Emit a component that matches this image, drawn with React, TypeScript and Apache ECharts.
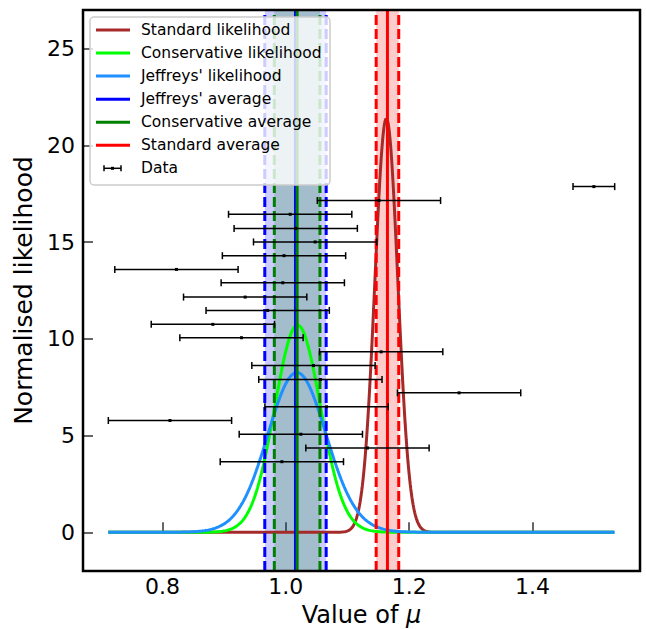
import React, { useEffect, useRef } from "react";
import * as echarts from "echarts";

// Measurements (value, vertical position, half-width of x error)
const dataX = [1.4996, 1.151, 1.007, 1.016, 1.0475, 0.997, 0.8225, 0.995, 0.934, 0.9705, 0.8816, 0.928, 1.1546, 1.0448, 1.056, 1.281, 1.066, 0.812, 1.0243, 1.1324, 0.9935];
const dataY = [17.87, 17.15, 16.44, 15.71, 15.01, 14.3, 13.59, 12.9, 12.16, 11.47, 10.75, 10.06, 9.33, 8.62, 7.9, 7.21, 6.49, 5.78, 5.07, 4.36, 3.65];
const dataErr = [0.0338, 0.1, 0.1, 0.1, 0.1, 0.1, 0.1, 0.1, 0.1, 0.1, 0.1, 0.1, 0.1, 0.1, 0.1, 0.1, 0.1, 0.1, 0.1, 0.1, 0.1];

// Averages: [centre, half-width]
const jeffreysAverage = [1.0156, 0.0498];
const conservativeAverage = [1.0183, 0.037];
const standardAverage = [1.1648, 0.0183];

const xTicks = [0.8, 1.0, 1.2, 1.4];
const yTicks = [0, 5, 10, 15, 20, 25];
const yRange = [-2, 27];

const legendLabels = [
  "Standard likelihood",
  "Conservative likelihood",
  "Jeffreys' likelihood",
  "Jeffreys' average",
  "Conservative average",
  "Standard average",
  "Data",
];

const C_STD = "#a52a2a";
const C_CONS = "#00ff00";
const C_JEF = "#1e90ff";
const C_JAVG = "#0000ff";
const C_CAVG = "#008000";
const C_SAVG = "#ff0000";

function erf(x: number): number {
  const s = x < 0 ? -1 : 1;
  const a = Math.abs(x);
  const t = 1 / (1 + 0.3275911 * a);
  const y = 1 - ((((1.061405429 * t - 1.453152027) * t + 1.421413741) * t - 0.284496736) * t + 0.254829592) * t * Math.exp(-a * a);
  return s * y;
}

const lo = Math.min(...dataX.map((x, i) => x - dataErr[i]));
const hi = Math.max(...dataX.map((x, i) => x + dataErr[i]));
const pad = 0.05 * (hi - lo);
const xMin = lo - pad;
const xMax = hi + pad;

const N = 900;
const grid: number[] = [];
for (let k = 0; k < N; k++) grid.push(lo + ((hi - lo) * k) / (N - 1));

function normalise(logL: number[]): number[][] {
  const m = Math.max(...logL);
  const L = logL.map((v) => Math.exp(v - m));
  let area = 0;
  for (let k = 1; k < N; k++) area += 0.5 * (L[k] + L[k - 1]) * (grid[k] - grid[k - 1]);
  return grid.map((x, k) => [x, L[k] / area]);
}

// Standard (Gaussian) likelihood from the weighted mean
const wSum = dataErr.reduce((s, e) => s + 1 / (e * e), 0);
const wMean = dataX.reduce((s, x, i) => s + x / (dataErr[i] * dataErr[i]), 0) / wSum;
const wSigma = 1 / Math.sqrt(wSum);
const standardCurve = grid.map((x) => [x, Math.exp(-((x - wMean) ** 2) / (2 * wSigma * wSigma)) / (wSigma * Math.sqrt(2 * Math.PI))]);

// Conservative likelihood: prod (1 - exp(-R^2/2)) / R^2
const conservativeCurve = normalise(
  grid.map((mu) =>
    dataX.reduce((s, x, i) => {
      const R = (x - mu) / dataErr[i];
      const r2 = R * R;
      const f = r2 < 1e-8 ? 0.5 : -Math.expm1(-r2 / 2) / r2;
      return s + Math.log(f);
    }, 0)
  )
);

// Jeffreys likelihood: prod erf(R/sqrt2) / R
const jeffreysCurve = normalise(
  grid.map((mu) =>
    dataX.reduce((s, x, i) => {
      const R = Math.abs((x - mu) / dataErr[i]);
      const f = R < 1e-4 ? Math.sqrt(2 / Math.PI) * (1 - (R * R) / 6) : erf(R / Math.SQRT2) / R;
      return s + Math.log(f);
    }, 0)
  )
);

const bandData = [
  [jeffreysAverage[0], jeffreysAverage[1], 0],
  [conservativeAverage[0], conservativeAverage[1], 1],
  [standardAverage[0], standardAverage[1], 2],
];
const bandColors = ["rgba(0,0,255,0.2)", "rgba(0,128,0,0.2)", "rgba(255,0,0,0.2)"];
const avgColors = [C_JAVG, C_CAVG, C_SAVG];

// vertical lines: [x, dashed(1)/solid(0), colour index]
const vlineData: number[][] = [];
[jeffreysAverage, conservativeAverage, standardAverage].forEach((a, i) => {
  vlineData.push([a[0] - a[1], 1, i]);
  vlineData.push([a[0] + a[1], 1, i]);
  vlineData.push([a[0], 0, i]);
});

const errData = dataX.map((x, i) => [x, dataY[i], dataErr[i]]);

const FONT = "DejaVu Sans";
const GRID = { left: 83, top: 10, width: 557, height: 561 };

export default function App() {
  const ref = useRef<HTMLDivElement>(null);
  useEffect(() => {
    if (!ref.current) return;
    const chart = echarts.init(ref.current, undefined, { renderer: "svg" });

    const legendX = 90;
    const legendY = 17;
    const rowY = (i: number) => 30 + i * 23.05;
    const legendColors = [C_STD, C_CONS, C_JEF, C_JAVG, C_CAVG, C_SAVG];
    const legendEls: any[] = [
      {
        type: "rect",
        shape: { x: legendX, y: legendY, width: 240, height: 168, r: 4 },
        style: { fill: "rgba(255,255,255,0.8)", stroke: "#cccccc", lineWidth: 1.5 },
        z: 100,
      },
    ];
    legendColors.forEach((c, i) => {
      legendEls.push({
        type: "line",
        shape: { x1: 96, y1: rowY(i), x2: 130, y2: rowY(i) },
        style: { stroke: c, lineWidth: 3 },
        z: 101,
      });
    });
    const dy = rowY(6);
    legendEls.push(
      { type: "line", shape: { x1: 104, y1: dy, x2: 121, y2: dy }, style: { stroke: "#000", lineWidth: 1.5 }, z: 101 },
      { type: "line", shape: { x1: 104, y1: dy - 3, x2: 104, y2: dy + 3 }, style: { stroke: "#000", lineWidth: 1.5 }, z: 101 },
      { type: "line", shape: { x1: 121, y1: dy - 3, x2: 121, y2: dy + 3 }, style: { stroke: "#000", lineWidth: 1.5 }, z: 101 },
      { type: "rect", shape: { x: 111, y: dy - 1.5, width: 3, height: 3 }, style: { fill: "#000" }, z: 101 }
    );
    legendLabels.forEach((t, i) => {
      legendEls.push({
        type: "text",
        x: 141,
        y: rowY(i),
        style: { text: t, fontSize: 15.5, fontFamily: FONT, fill: "#000", verticalAlign: "middle", align: "left" },
        z: 101,
      });
    });

    const option: any = {
      animation: false,
      backgroundColor: "#fff",
      grid: { ...GRID, show: false, containLabel: false, outerBoundsMode: "none" },
      xAxis: {
        type: "value",
        min: xMin,
        max: xMax,
        splitLine: { show: false },
        axisLine: { show: false },
        axisTick: { show: true, inside: true, length: 10, customValues: xTicks, lineStyle: { color: "#333", width: 1.5 } },
        axisLabel: {
          customValues: xTicks,
          formatter: (v: number) => v.toFixed(1),
          fontSize: 22,
          fontFamily: FONT,
          color: "#000",
          margin: 5,
          lineHeight: 20,
        },
        name: "Value of {i|μ}",
        nameLocation: "middle",
        nameGap: 44,
        nameMoveOverlap: false,
        nameTextStyle: {
          fontSize: 24,
          fontFamily: FONT,
          color: "#000",
          verticalAlign: "middle",
          lineHeight: 20,
          rich: { i: { fontSize: 24, fontFamily: FONT, fontStyle: "italic", color: "#000", lineHeight: 20 } },
        },
      },
      yAxis: {
        type: "value",
        min: yRange[0],
        max: yRange[1],
        splitLine: { show: false },
        axisLine: { show: false },
        axisTick: { show: true, inside: true, length: 10, customValues: yTicks, lineStyle: { color: "#333", width: 1.5 } },
        axisLabel: {
          customValues: yTicks,
          fontSize: 22,
          fontFamily: FONT,
          color: "#000",
          margin: 8,
        },
        name: "Normalised likelihood",
        nameLocation: "middle",
        nameGap: 42,
        nameTextStyle: { fontSize: 25, fontFamily: FONT, color: "#000" },
      },
      series: [
        {
          type: "custom",
          name: "bands",
          z: 1,
          data: bandData,
          encode: { x: 0 },
          renderItem: (params: any, api: any) => {
            const c = api.value(0);
            const w = api.value(1);
            const idx = api.value(2);
            const a = api.coord([c - w, 0]);
            const b = api.coord([c + w, 0]);
            const cs = params.coordSys;
            return {
              type: "rect",
              shape: { x: a[0], y: cs.y, width: b[0] - a[0], height: cs.height },
              style: { fill: bandColors[idx] },
            };
          },
        },
        {
          type: "line",
          name: "Standard likelihood",
          z: 2,
          data: standardCurve,
          showSymbol: false,
          lineStyle: { color: C_STD, width: 3 },
          itemStyle: { color: C_STD },
        },
        {
          type: "line",
          name: "Conservative likelihood",
          z: 3,
          data: conservativeCurve,
          showSymbol: false,
          lineStyle: { color: C_CONS, width: 3 },
          itemStyle: { color: C_CONS },
        },
        {
          type: "line",
          name: "Jeffreys' likelihood",
          z: 4,
          data: jeffreysCurve,
          showSymbol: false,
          lineStyle: { color: C_JEF, width: 3 },
          itemStyle: { color: C_JEF },
        },
        {
          type: "custom",
          name: "averages",
          z: 5,
          data: vlineData,
          encode: { x: 0 },
          renderItem: (params: any, api: any) => {
            const x = api.value(0);
            const dashed = api.value(1) === 1;
            const idx = api.value(2);
            const p = api.coord([x, 0]);
            const cs = params.coordSys;
            return {
              type: "line",
              shape: { x1: p[0], y1: cs.y + cs.height, x2: p[0], y2: cs.y },
              style: { stroke: avgColors[idx], lineWidth: 3, lineDash: dashed ? [10, 4] : null },
            };
          },
        },
        {
          type: "custom",
          name: "Data",
          z: 6,
          data: errData,
          encode: { x: 0, y: 1 },
          renderItem: (params: any, api: any) => {
            const x = api.value(0);
            const y = api.value(1);
            const e = api.value(2);
            const p0 = api.coord([x - e, y]);
            const p1 = api.coord([x + e, y]);
            const pc = api.coord([x, y]);
            const st = { stroke: "#000", lineWidth: 1.5 };
            return {
              type: "group",
              children: [
                { type: "line", shape: { x1: p0[0], y1: p0[1], x2: p1[0], y2: p1[1] }, style: st },
                { type: "line", shape: { x1: p0[0], y1: p0[1] - 3.5, x2: p0[0], y2: p0[1] + 3.5 }, style: st },
                { type: "line", shape: { x1: p1[0], y1: p1[1] - 3.5, x2: p1[0], y2: p1[1] + 3.5 }, style: st },
                { type: "rect", shape: { x: pc[0] - 1.5, y: pc[1] - 1.5, width: 3, height: 3 }, style: { fill: "#000" } },
              ],
            };
          },
        },
      ],
      graphic: [
        {
          type: "rect",
          shape: { x: GRID.left, y: GRID.top, width: GRID.width, height: GRID.height },
          style: { fill: "none", stroke: "#000", lineWidth: 2.5 },
          z: 90,
        },
        ...legendEls,
      ],
    };
    chart.setOption(option);
    return () => chart.dispose();
  }, []);
  return <div ref={ref} style={{ position: "absolute", left: 0, top: 0, width: 646, height: 629 }} />;
}
